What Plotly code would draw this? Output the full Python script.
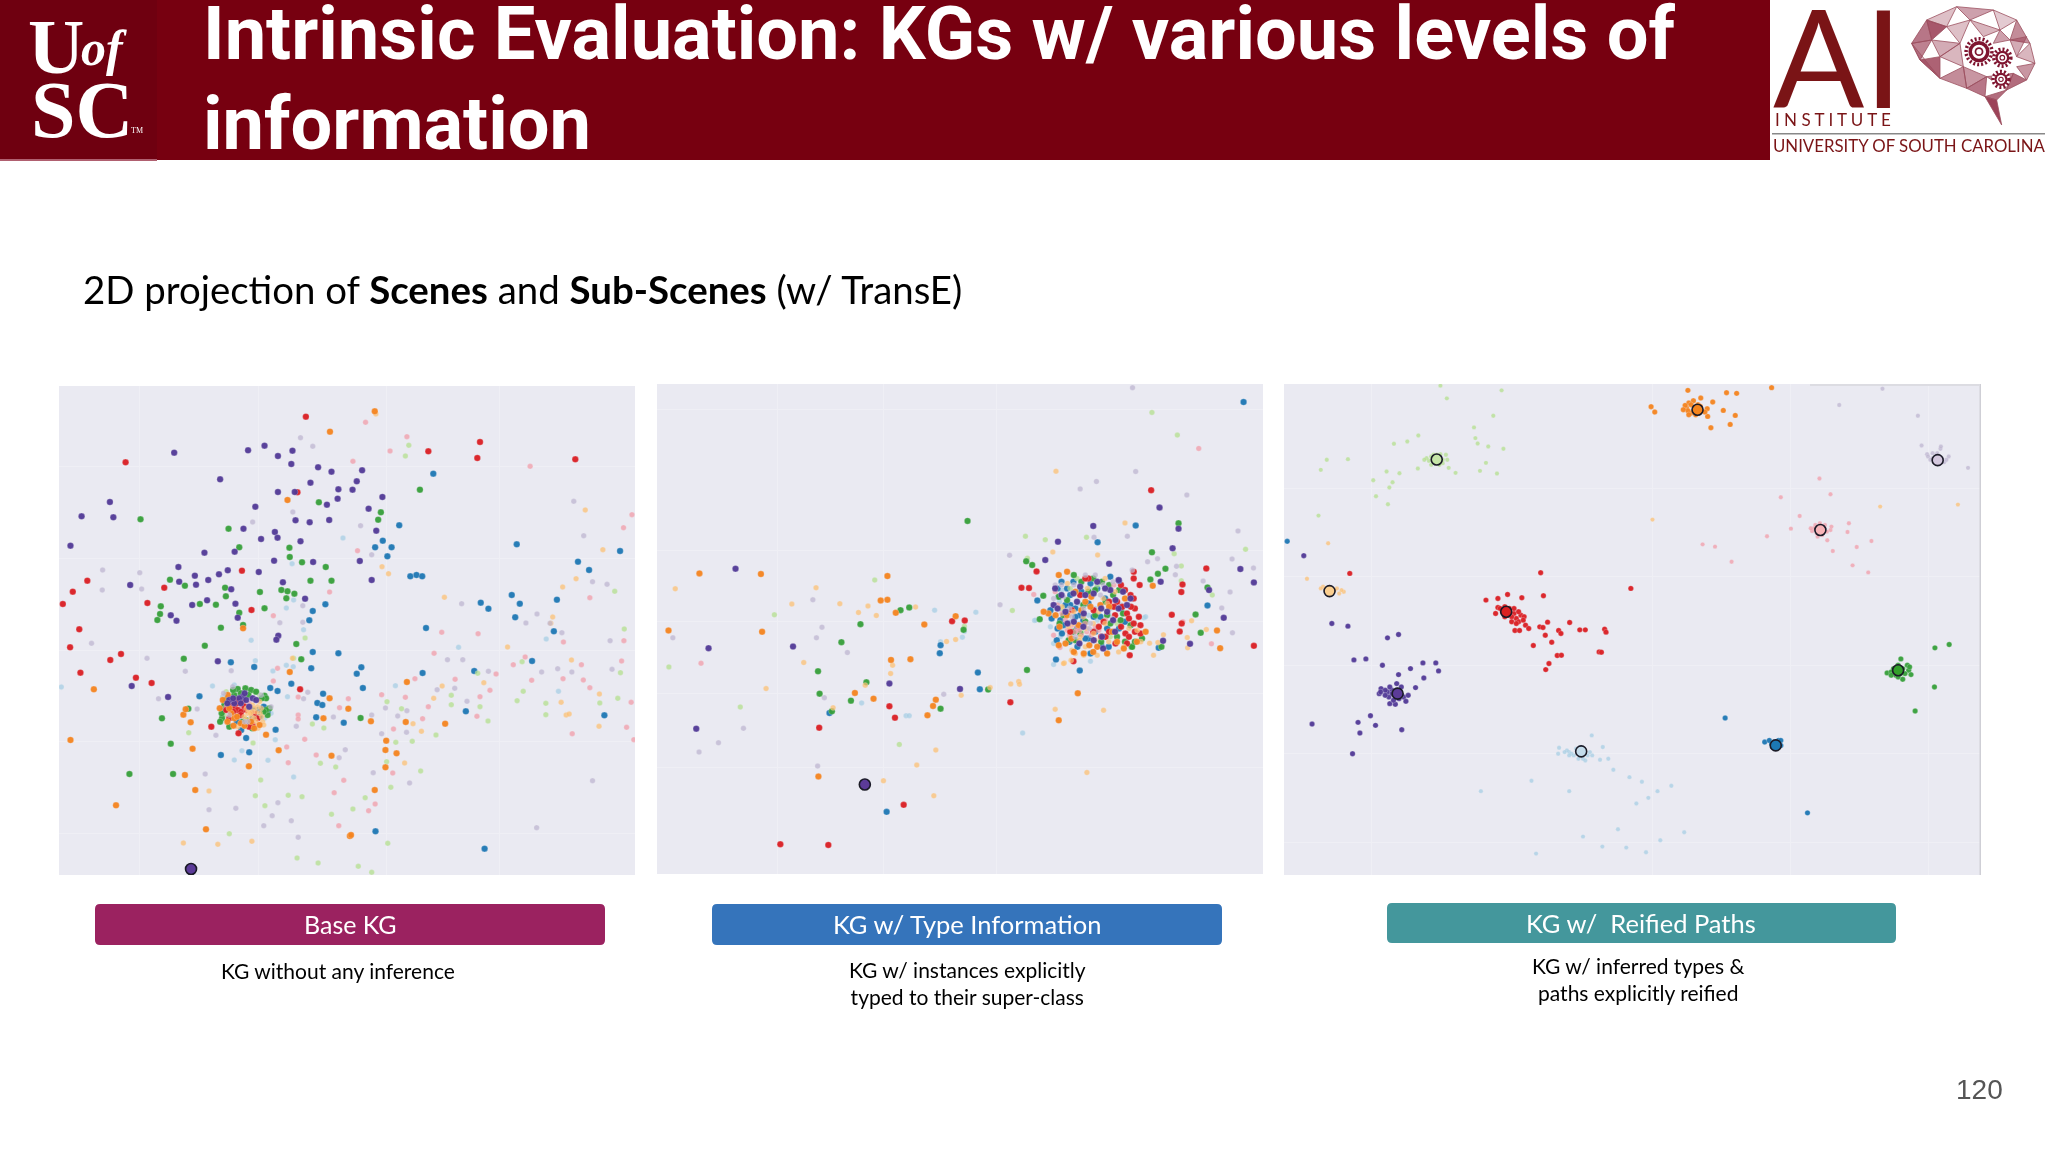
import plotly.graph_objects as go

# ---------- text ----------
TITLE_LINE_1 = "Intrinsic Evaluation: KGs w/ various levels of"
TITLE_LINE_2 = "information"
SUBTITLE = "2D projection of <b>Scenes</b> and <b>Sub-Scenes</b> (w/ TransE)"
BUTTON_LABELS = ["Base KG", "KG w/ Type Information", "KG w/  Reified Paths"]
CAPTIONS = ["KG without any inference",
            "KG w/ instances explicitly<br>typed to their super-class",
            "KG w/ inferred types &<br>paths explicitly reified"]
PAGE_NUMBER = "120"

# ---------- panel 1 : Base KG ----------
P1_LIGHTBLUE = [(767,489),(634,566),(664,764),(619,699),(638,675),(527,796),(1298,792),(1069,817),(538,857),(619,871),(637,875),(584,888),(31,936),(426,933),(904,932),(1330,949),(622,965),(590,1094),(503,1127),(483,1155),(571,1156),(638,1206),
                (483,930),(453,965),(505,1030),(562,1030),(579,1015),(470,1050),(553,1000),(460,960),(540,1020),(495,1035)]
P1_BLUE = [(1003,296),(914,451),(871,497),(851,517),(894,517),(883,544),(943,604),(959,600),(974,604),(721,688),(688,708),(679,736),(1221,508),(1491,528),(1381,560),(1410,585),(1208,660),(1229,686),(1127,683),(1147,701),(1326,674),(1217,727),(984,759),(1318,769),(755,835),(688,831),(474,862),(535,876),(684,880),(815,877),(803,896),(975,894),(1110,888),(1261,858),(632,926),(577,939),(596,948),(819,939),(392,964),(715,956),(700,984),(713,990),(1088,1009),(1450,1021),(697,1027),(769,1043),(591,1064),(514,1089),(448,1140),(522,1132),(852,1369),(1137,1421),
           (501,1065),(531,1005),(570,1010),(549,1025),(505,970),(531,1030),(545,1005),(560,995),(520,1040),(490,1040),(455,1005)]
P1_LIGHTGREEN = [(939,211),(930,243),(1477,649),(1502,762),(1492,893),(1119,895),(1235,860),(1238,949),(1222,977),(1050,961),(1050,989),(1125,995),(1146,1038),(1485,970),(1438,984),(1297,985),(1297,1019),(920,1001),(882,980),(687,1047),(717,1059),(364,1073),(948,1099),(905,1102),(1010,1080),(532,1104),(708,1165),(748,1176),(881,1160),(970,1188),(552,1215),(892,1237),(538,1262),(624,1261),(660,1265),(825,1268),(563,1292),(793,1302),(737,1318),(470,1376),(884,1405),(647,1449),(702,1464),(807,1474),(842,1492),(668,789),(638,850),
                 (462,950),(536,950),(457,1020),(514,960),(549,960)]
P1_GREEN = [(238,433),(968,344),(704,382),(866,412),(859,434),(468,461),(496,517),(627,518),(628,546),(660,562),(722,576),(315,614),(682,617),(737,617),(354,632),(459,638),(606,645),(622,649),(640,656),(550,651),(461,664),(619,670),(393,687),(435,689),(291,694),(562,700),(289,717),(496,713),(282,735),(506,750),(448,758),(645,807),(406,812),(351,851),(658,853),(363,1001),(294,1030),(813,1029),(317,1106),(209,1197),(323,1197),
            (492,942),(512,940),(527,945),(562,962),(566,970),(575,1000),(451,1030),(446,1040),(483,960),(457,990),(570,1020),(514,1035),(470,1055),(566,1005),(480,945),(500,955),(540,950),(555,970),(460,975),(505,1040),(530,1060),(560,1010),(450,1015),(520,960)]
P1_PINK = [(826,142),(934,185),(890,228),(793,259),(1256,274),(1522,419),(1500,458),(805,527),(732,651),(585,722),(1412,668),(1025,772),(1120,776),(1343,801),(1501,797),(1005,835),(1495,858),(1390,869),(596,880),(1212,869),(1243,846),(1167,897),(955,911),(1060,913),(1342,911),(1395,915),(1412,938),(1260,916),(585,918),(868,959),(781,971),(650,966),(930,967),(1151,946),(1125,965),(990,995),(758,998),(1520,982),(1117,1024),(975,1031),(650,1020),(650,1032),(1508,1057),(899,1062),(1366,1076),(1527,1094),(667,1093),(620,1116),(697,1140),(624,1163),(897,1194),(769,1216),(744,1253),(851,1287),(834,1307),(756,1352),
           (462,995),(505,995),(475,970),(522,985),(492,1020),(480,1000),(500,1000)]
P1_RED = [(670,125),(199,262),(990,229),(1125,201),(1118,249),(1374,253),(648,352),(99,617),(61,650),(300,638),(35,687),(256,684),(503,587),(528,705),(78,763),(54,817),(187,837),(159,855),(81,893),(226,908),(267,924),(655,943),(423,1055),(494,1075),
          (483,995),(492,1005),(501,1010),(505,980),(475,985),(462,1005),(531,1050),(544,1030),(522,1055),(470,1030),(490,985),(510,995),(470,995),(500,1020),(515,1005),(480,1010),(535,1015),(490,975)]
P1_LIGHTORANGE = [(853,117),(1400,405),(1446,524),(1376,611),(1341,636),(1032,667),(1315,726),(1310,745),(1197,816),(1364,855),(869,575),(886,596),(1135,923),(1026,933),(1004,970),(1437,957),(1337,982),(1350,1020),(1358,1017),(950,1046),(972,1069),(1436,1054),(417,1248),(350,1404),(440,1408),(529,1399),(928,1164),(635,850),
                  (531,990),(544,995),(540,1010),(518,1015),(527,1025),(549,980),(509,1025),(553,1000),(522,1005),(492,1055),(540,1040),(557,1040),(515,1000),(535,1000),(550,1015),(530,1010),(515,1035),(505,1050),(535,1030),(555,1025),(545,1060),(525,1015),(560,1050)]
P1_ORANGE = [(850,109),(733,170),(622,375),(506,760),(628,891),(116,943),(934,921),(732,970),(781,1001),(350,1019),(356,1003),(716,1030),(840,1039),(369,1042),(931,1041),(1034,1046),(566,1079),(55,1095),(880,1097),(374,1121),(599,1126),(878,1125),(907,1135),(737,1142),(878,1177),(354,1200),(381,1245),(850,1245),(174,1291),(409,1363),(785,1383),(788,1380),(521,1174),
             (475,1015),(483,1030),(481,1052),(466,960),(527,1040),(549,1050),(453,975),(500,1045),(465,1040),(490,1025),(510,1052),(470,1000),(445,1000),(535,1060)]
P1_LAVENDER = [(656,188),(688,214),(1370,379),(636,411),(531,441),(813,452),(1396,482),(842,539),(139,585),(236,593),(138,645),(241,642),(1419,620),(1457,628),(1077,686),(662,692),(1274,717),(1245,744),(602,743),(662,742),(1308,745),(1339,773),(1465,797),(110,805),(255,850),(1040,854),(1080,854),(1470,883),(1286,891),(1365,891),(1147,889),(1328,881),(355,889),(475,887),(285,971),(1059,940),(675,952),(1013,944),(664,971),(1091,979),(878,999),(910,1023),(934,1007),(842,1020),(742,1026),(645,1054),(933,1072),(868,1076),(435,1081),(773,1124),(757,1148),(846,1193),(941,1224),(1419,1217),(407,1197),(417,1304),(487,1300),(597,1283),(582,1322),(632,1337),(560,1352),(650,1387),(1273,1358),(386,1002),
               (479,935),(470,1020),(518,1040),(553,960),(579,995),(510,1040),(455,955)]
P1_PURPLE = [(326,233),(519,226),(562,212),(597,243),(635,227),(632,267),(702,277),(737,290),(817,286),(803,319),(682,323),(446,313),(597,351),(641,351),(755,343),(792,344),(753,371),(870,366),(725,389),(834,401),(158,381),(84,424),(167,427),(538,395),(643,436),(680,442),(731,435),(507,461),(589,471),(596,488),(553,492),(656,499),(854,467),(55,512),(405,533),(484,530),(587,557),(689,561),(811,558),(337,576),(466,586),(443,598),(547,591),(380,602),(339,620),(415,615),(383,629),(211,630),(610,622),(842,615),(475,643),(412,676),(373,690),(486,686),(668,671),(317,721),(332,737),(492,728),(598,782),(593,794),(440,859),(215,933),(310,966),
             (505,965),(496,970),(514,975),(483,985),(470,975),(531,970),(522,995),(510,955),(480,970),(500,985),(540,975),(465,985)]
P1_CENTROIDS = [(370,1482)]
P1_GRID_X = [235,545,880,1175]
P1_GRID_Y = [275,550,825,1100,1375]

# ---------- panel 2 : KG w/ type information ----------
P2_LIGHTBLUE = [(720,705),(824,711),(795,769),(790,786),(735,800),(1020,868),(1113,858),(972,736),(1248,728),(536,983),(648,1021),(656,1021),(942,1073),
                (1012,755),(1037,785),(974,735),(1062,740),(1108,720),(1130,735),(1252,725),(1163,700),(1083,685),(1041,645),(1020,805),(1020,720),(1040,770),(1085,745),(1125,700),(1160,720),(1190,690),(1110,640),(1035,680)]
P2_BLUE = [(1499,82),(1227,452),(1131,502),(979,676),(1408,691),(733,834),(735,810),(829,892),(834,942),(1026,853),(1086,886),(599,1309),(455,1013),(1285,818),
           (1054,640),(1113,625),(1163,605),(1033,665),(1062,690),(1108,685),(1138,725),(1037,735),(1045,750),(1041,775),(1028,795),(1079,760),(1108,790),(1121,725),(1159,815),(1113,835),(1087,720),(1155,760),(1062,660),(1012,705),
           (1030,640),(1070,620),(1090,650),(1130,640),(1150,670),(1075,700),(1050,690),(1095,735),(1125,770),(1060,800),(1080,815),(1140,810),(1030,760),(1015,730),(1200,740),(1185,760),(1190,700),(1100,790),(1075,725),(1040,620)]
P2_LIGHTGREEN = [(1268,113),(1332,181),(949,484),(999,494),(1103,487),(1504,523),(1324,536),(1342,573),(569,615),(316,719),(916,706),(1420,660),(50,875),(230,995),(631,1107),(795,753),(1342,617),(954,550),
                 (1079,610),(1092,770),(1163,785),(1130,630),(1041,700),(1062,640),(1180,745)]
P2_GREEN = [(803,438),(1335,445),(1268,532),(951,559),(966,570),(994,662),(1302,581),(1283,596),(1264,613),(1408,637),(1378,718),(1391,773),(634,705),(656,697),(533,747),(793,764),(485,801),(426,888),(548,921),(430,955),(509,976),(735,1000),(461,1008),(953,884),(855,943),(1292,815),(985,732),(1217,815),
            (1071,600),(1142,620),(1125,645),(1033,665),(1054,675),(1087,775),(1163,745),(1189,735),(1218,815),(1243,790),(1151,680),(1045,720),(1100,740),(1180,785),(1058,795),(1214,750),(1108,650),
            (1090,620),(1160,630),(1185,645),(1170,660),(1095,690),(1125,720),(1070,770),(1200,800),(1225,800),(1140,800),(1075,795),(1035,745),(1195,715),(1155,720),(1120,610)]
P2_PINK = [(1386,221),(131,864),(1418,806),(1346,740),(1036,817),(970,658),
           (1066,750),(1079,760),(1104,770),(1054,765),(1087,750),(1134,765),(1041,715),(1020,780),(1151,735),(1172,630),(1024,650),
           (1075,770),(1090,780),(1115,780),(1125,755),(1100,745),(1060,780),(1050,735),(1085,765),(1030,690)]
P2_RED = [(1266,346),(977,589),(939,638),(958,639),(1405,580),(1345,628),(1342,651),(1318,719),(1343,745),(1338,769),(1525,812),(764,738),(796,736),(1070,858),(1212,840),(911,981),(606,993),(620,1027),(429,1057),(642,1288),(331,1406),(452,1408),(1222,590),(1222,610),(1237,630),
          (1108,610),(1100,610),(1214,660),(1222,670),(1087,660),(1180,680),(1172,695),(1193,695),(1205,715),(1210,730),(1146,740),(1134,755),(1222,745),(1239,750),(1201,775),(1210,785),(1151,785),(1239,775),(1066,705),(1176,805),(1062,770),(1121,705),
          (1190,630),(1200,645),(1225,700),(1235,725),(1190,755),(1175,720),(1120,770),(1160,770),(1225,770),(1205,805),(1140,785),(1160,680),(1215,695)]
P2_LIGHTORANGE = [(1026,289),(1200,444),(1018,531),(1131,540),(66,641),(421,638),(360,687),(481,686),(528,712),(552,693),(573,721),(672,696),(390,862),(614,870),(609,895),(545,930),(295,940),(464,997),(860,937),(912,926),(932,919),(934,927),(787,960),(750,799),(773,793),(1024,1002),(1146,1005),(723,1124),(675,1169),(591,1216),(718,1261),(1104,1191),(1368,737),(1405,763),(1357,787),(1358,818),(1297,779),(1283,802),(1262,804),(1047,863),(1064,855),(1272,840),
                  (1075,835),(1096,840),(1045,865),(1066,825),(1121,775),(1087,785),(1104,760),(1058,755),(1184,830),(1197,815),(1134,710),(1071,710),(1041,695),(1155,685),(1159,800),(1231,765),
                  (1085,795),(1100,815),(1125,795),(1070,745),(1120,745),(1150,745),(1095,725),(1060,720),(1145,670),(1175,650),(1210,760),(1105,640),(1150,610),(1240,800),(1055,625),(1130,840)]
P2_ORANGE = [(127,595),(282,597),(601,603),(584,676),(601,674),(622,713),(773,723),(694,748),(49,766),(285,770),(610,854),(659,852),(519,953),(566,970),(723,973),(716,992),(702,1020),(1081,954),(1033,1035),(427,1203),(1432,766),(1440,819),(1270,632),
             (1033,600),(1054,590),(1007,715),(995,710),(1113,695),(1054,720),(1083,750),(1130,815),(1096,835),(1050,805),(1197,820),(1252,770),(1033,810),(1071,830),(1168,770),(1138,690),(1100,680),
             (1075,650),(1115,665),(1160,695),(1090,705),(1035,755),(1065,790),(1110,810),(1180,800),(1230,800),(1155,835),(1120,830),(1025,720),(1200,670)]
P2_LAVENDER = [(1219,39),(1227,290),(1128,320),(1087,342),(1356,360),(1289,401),(1485,468),(1206,484),(1122,487),(909,541),(1282,551),(1257,560),(1470,552),(1330,574),(1524,579),(1327,599),(1397,618),(1465,651),(885,689),(1444,699),(1471,773),(413,674),(436,756),(422,788),(60,788),(500,832),(442,967),(238,1059),(175,1102),(126,1130),(425,1172),(743,957),
               (1024,630),(1071,630),(1125,600),(1020,670),(1066,725),(1113,745),(1138,660),(1218,585),(1168,730),(1075,785),(1096,700),(1040,630),(1100,600),(1145,630),(1060,700),(1045,665),(1110,760),(1170,620)]
P2_PURPLE = [(218,581),(150,819),(363,814),(119,1060),(606,925),(784,941),(1120,453),(1031,500),(999,555),(1160,566),(1287,398),(1335,461),(1320,520),(1491,582),(1525,622),(1290,620),(1412,645),(1449,728),(1296,797),(1364,806),(1185,617),
             (1184,615),(1087,635),(1024,640),(1020,690),(1050,710),(1096,715),(1155,710),(1176,675),(1121,655),(1214,670),(1121,795),(1071,740),(1142,785),(1184,700),(1079,680),(1163,645),
             (1040,660),(1100,660),(1130,620),(1150,640),(1070,655),(1170,735),(1140,700),(1095,755),(1055,745),(1195,650),(1145,820),(1205,690),(1085,805),(1030,700),(1175,770)]
P2_CENTROIDS = [(544,1227)]
P2_GRID_X = [325,590,875]
P2_GRID_Y = [105,525,740,955,1175]

# ---------- panel 3 : KG w/ reified paths ----------
P3_LIGHTBLUE = [(689,1080),(713,1115),(618,1117),(616,1135),(725,1150),(707,1153),(736,1183),(771,1205),(798,1219),(862,1231),(558,1216),(448,1247),(640,1247),(832,1247),(812,1267),(786,1284),(746,1361),(890,1370),(670,1383),(838,1394),(712,1413),(764,1416),(807,1430),(568,1434),
                (640,1130),(655,1120),(680,1140),(670,1150),(650,1140),(685,1130),(635,1125),(645,1135),(660,1150),(675,1155),(690,1140),(640,1140),(665,1115),(630,1130)]
P3_BLUE = [(27,499),(979,1028),(1158,1312),(1065,1100),(1080,1105),(1095,1095),(1100,1110),(1090,1118),(1082,1115),(1075,1095),(1090,1105),(1100,1095),(1085,1100)]
P3_LIGHTGREEN = [(360,33),(493,47),(374,71),(475,123),(312,182),(288,200),(259,207),(433,158),(436,190),(441,206),(464,215),(497,222),(113,255),(159,253),(100,285),(243,290),(271,295),(311,281),(378,279),(393,294),(446,288),(459,264),(483,296),(214,316),(256,322),(249,338),(220,364),(246,388),(95,422),
                 (340,245),(345,262),(360,238),(372,240),(335,258),(365,265),(330,250),(358,270),(352,240),(345,240),(365,255),(325,255),(375,255),(340,270),(350,265)]
P3_GREEN = [(1435,818),(1466,808),(1361,851),(1434,935),(1392,1007),(1331,893),(1345,880),(1360,895),(1375,870),(1378,885),(1383,898),(1365,912),(1350,900),(1370,895),(1340,890),(1355,870),(1365,880),(1380,875),(1355,905),(1340,900)]
P3_PINK = [(1184,311),(1208,358),(1100,367),(1141,423),(1122,461),(1070,484),(1248,445),(1245,471),(1201,496),(1297,498),(1265,516),(1213,528),(930,508),(957,515),(993,560),(1256,571),(1290,592),
           (1172,460),(1178,475),(1196,450),(1208,465),(1190,480),(1168,468),(1175,450),(1185,445),(1200,470),(1180,485),(1210,455),(1165,460)]
P3_RED = [(163,595),(578,593),(774,640),(459,675),(485,670),(506,658),(537,668),(584,662),(485,697),(593,741),(641,742),(576,755),(583,757),(617,766),(622,775),(663,764),(675,764),(717,762),(720,771),(588,780),(602,801),(562,811),(522,766),(532,766),(545,750),(552,760),(705,830),(710,831),(614,841),(623,840),(596,865),(589,883),
          (495,710),(510,700),(520,715),(525,730),(535,720),(542,725),(530,740),(515,725),(490,700),(505,720),(500,695),(510,715),(520,700),(530,710),(500,725),(515,740),(525,745),(540,735),(480,715)]
P3_LIGHTORANGE = [(821,434),(1316,395),(1485,389),(116,505),(70,611),(105,635),(130,645),(140,655),(150,650),(112,640),(135,640),(125,650),(115,655),(145,645),(100,640)]
P3_ORANGE = [(898,47),(982,54),(1004,56),(1080,39),(818,96),(826,112),(926,70),(952,82),(975,107),(1001,122),(941,125),(948,159),(990,149),
             (900,85),(910,78),(895,100),(905,115),(920,90),(898,108),(915,120),(940,102),(905,90),(915,100),(925,108),(892,92),(900,120),(912,108),(925,95),(935,112),(888,105)]
P3_LAVENDER = [(1321,42),(1227,91),(1398,123),(1406,212),(1507,279),(1418,238),(1447,222),(1430,250),(1455,262),(1465,245),(1440,235),(1420,245),(1430,235),(1450,250),(1460,255),(1445,265),(1435,265),(1448,215),(1425,255)]
P3_PURPLE = [(63,542),(124,745),(159,753),(245,788),(269,778),(172,854),(198,851),(234,870),(322,863),(350,863),(295,880),(356,887),(269,898),(324,908),(306,937),(208,1021),(81,1046),(181,1041),(219,1050),(185,1073),(276,1063),(169,1135),
             (231,940),(227,955),(245,950),(255,945),(275,935),(260,960),(280,965),(290,960),(285,978),(250,985),(262,987),(272,950),(258,975),(248,965),(240,945),(250,935),(265,945),(275,960),(240,960),(255,955),(270,970),(230,950),(265,925)]
P3_CENTROIDS = [(666,1128),(1089,1110),(352,254),(1355,885),(1186,465),(503,710),(119,648),(919,105),(1441,256),(267,955)]
P3_CENTROID_COLOURS = ["#C4DCEB","#1F78B4","#C6E5A8","#33A02C","#F7B4B8","#DB2024","#FBCF90","#F5841F","#D4C8DE","#5B3A98"]
P3_GRID_X = [210,820,1120,1420]
P3_GRID_Y = [340,605,870,1135,1400]

COLOURS = {"lightblue":"#A6CEE3","blue":"#1F78B4","lightgreen":"#B2DF8A","green":"#37A03A","pink":"#F29AA6",
           "red":"#DB2024","lightorange":"#FDBF6F","orange":"#F5841F","lavender":"#BDB4CF","purple":"#523A96"}
PALE = {"lightblue","lightgreen","pink","lightorange","lavender"}

# ---------- helpers ----------
W, H = 2048, 1152
def px(x): return x / W
def py(y): return 1 - y / H

def poly(points, **kw):
    path = "M " + " L ".join(f"{px(x):.5f},{py(y):.5f}" for x, y in points) + " Z"
    return dict(type="path", xref="paper", yref="paper", path=path, layer=kw.pop("layer", "above"), **kw)

def rect(x0, y0, x1, y1, fill, layer="below"):
    return dict(type="rect", xref="paper", yref="paper", x0=px(x0), x1=px(x1), y0=py(y1), y1=py(y0),
                fillcolor=fill, line=dict(width=0), layer=layer)

def circle(cx, cy, r, fill=None, line=None):
    return dict(type="circle", xref="paper", yref="paper", x0=px(cx-r), x1=px(cx+r), y0=py(cy+r), y1=py(cy-r),
                fillcolor=fill or "rgba(0,0,0,0)", line=line or dict(width=0), layer="above")

def rounded(x0, y0, x1, y1, r, fill):
    c = lambda x, y: f"{px(x):.5f},{py(y):.5f}"
    path = (f"M {c(x0+r,y0)} L {c(x1-r,y0)} Q {c(x1,y0)} {c(x1,y0+r)} L {c(x1,y1-r)} Q {c(x1,y1)} {c(x1-r,y1)} "
            f"L {c(x0+r,y1)} Q {c(x0,y1)} {c(x0,y1-r)} L {c(x0,y0+r)} Q {c(x0,y0)} {c(x0+r,y0)} Z")
    return dict(type="path", xref="paper", yref="paper", path=path, fillcolor=fill, line=dict(width=0), layer="below")

def text(x, y, s, size, color="#000", family="Lato", xanchor="left", yanchor="middle", weight=None, align=None):
    f = dict(size=size, color=color, family=family)
    if weight: f["weight"] = weight
    return dict(xref="paper", yref="paper", x=px(x), y=py(y), text=s, showarrow=False, xanchor=xanchor,
                yanchor=yanchor, font=f, borderpad=0, align=align or ("center" if xanchor == "center" else "left"))

fig = go.Figure()

panels = [
    dict(n="", box=(59,386,635,875), xr=(25,1530), yr=(1500,33), size=6.5, gx=P1_GRID_X, gy=P1_GRID_Y,
         series=[("lightblue",P1_LIGHTBLUE),("blue",P1_BLUE),("lightgreen",P1_LIGHTGREEN),("green",P1_GREEN),("pink",P1_PINK),
                 ("red",P1_RED),("lightorange",P1_LIGHTORANGE),("orange",P1_ORANGE),("lavender",P1_LAVENDER),("purple",P1_PURPLE)],
         cent=P1_CENTROIDS, cc=["#5B3A98"], cs=11),
    dict(n="2", box=(657,384,1263,874), xr=(20,1548), yr=(1495,28), size=6.5, gx=P2_GRID_X, gy=P2_GRID_Y,
         series=[("lightblue",P2_LIGHTBLUE),("blue",P2_BLUE),("lightgreen",P2_LIGHTGREEN),("green",P2_GREEN),("pink",P2_PINK),
                 ("red",P2_RED),("lightorange",P2_LIGHTORANGE),("orange",P2_ORANGE),("lavender",P2_LAVENDER),("purple",P2_PURPLE)],
         cent=P2_CENTROIDS, cc=["#5B3A98"], cs=11),
    dict(n="3", box=(1284,384,1980,875), xr=(20,1533), yr=(1498,28), size=5.4, gx=P3_GRID_X, gy=P3_GRID_Y,
         series=[("lightblue",P3_LIGHTBLUE),("blue",P3_BLUE),("lightgreen",P3_LIGHTGREEN),("green",P3_GREEN),("pink",P3_PINK),
                 ("red",P3_RED),("lightorange",P3_LIGHTORANGE),("orange",P3_ORANGE),("lavender",P3_LAVENDER),("purple",P3_PURPLE)],
         cent=P3_CENTROIDS, cc=P3_CENTROID_COLOURS, cs=11),
]

axes = {}
for p in panels:
    x0, y0, x1, y1 = p["box"]
    axes["xaxis"+p["n"]] = dict(domain=[px(x0), px(x1)], range=list(p["xr"]), tickvals=p["gx"], showticklabels=False, ticks="",
                                showgrid=True, gridcolor="#EFEFF5", gridwidth=1, zeroline=False, fixedrange=True,
                                anchor="y"+p["n"], showline=False)
    axes["yaxis"+p["n"]] = dict(domain=[py(y1), py(y0)], range=list(p["yr"]), tickvals=p["gy"], showticklabels=False, ticks="",
                                showgrid=True, gridcolor="#EFEFF5", gridwidth=1, zeroline=False, fixedrange=True,
                                anchor="x"+p["n"], showline=False)
    for name, pts in p["series"]:
        pale = name in PALE
        fig.add_trace(go.Scatter(x=[a for a, _ in pts], y=[b for _, b in pts], mode="markers", name=name,
                                 xaxis="x"+p["n"], yaxis="y"+p["n"], showlegend=False, hoverinfo="skip",
                                 marker=dict(color=COLOURS[name], size=p["size"] - (1.0 if pale else 0),
                                             opacity=0.72 if pale else 0.95,
                                             line=dict(color="rgba(240,240,246,0.5)", width=0.5))))
    fig.add_trace(go.Scatter(x=[a for a, _ in p["cent"]], y=[b for _, b in p["cent"]], mode="markers", name="centroid",
                             xaxis="x"+p["n"], yaxis="y"+p["n"], showlegend=False, hoverinfo="skip",
                             marker=dict(color=p["cc"], size=p["cs"], line=dict(color="#1a1a28", width=1.6))))

# ---------- slide furniture ----------
shapes = [
    rect(0, 0, 1770, 160, "#770010"),
    rect(0, 0, 157, 160, "#6F0010"),
    rect(0, 159, 157, 161, "#B06070"),
    rect(1772, 133, 2045, 134.5, "#888888", layer="above"),
    rect(1979.5, 384, 1981, 875, "#CFCFD6", layer="above"),
    rect(1810, 384, 1980, 386, "#DCDCE2", layer="above"),
    rect(59, 386, 635, 875, "#EAEAF2"),
    rect(657, 384, 1263, 874, "#EAEAF2"),
    rect(1284, 384, 1980, 875, "#EAEAF2"),
    rounded(95, 904, 605, 945, 5, "#9B2260"),
    rounded(712, 904, 1222, 945, 5, "#3574BB"),
    rounded(1387, 903, 1896, 943, 5, "#44979C"),
]

# brain logo (drawn in logo-zoom coordinates)
def lg(x, y): return (1740 + x / 3, y / 3)
BRAIN_TRIANGLES = [
    [(515,130),(560,60),(575,120)], [(560,60),(650,20),(620,80)], [(650,20),(760,30),(690,60)], [(760,30),(830,60),(780,90)],
    [(830,60),(870,130),(810,120)], [(870,130),(885,190),(830,170)], [(885,190),(860,240),(830,200)], [(860,240),(800,270),(820,220)],
    [(560,60),(620,80),(575,120)], [(620,80),(690,60),(660,130)], [(575,120),(660,130),(600,170)], [(515,130),(575,120),(540,180)],
    [(540,180),(600,170),(600,235)], [(600,170),(660,130),(670,200)], [(600,235),(670,200),(680,265)], [(680,265),(740,230),(735,290)],
    [(735,290),(770,300),(785,375)], [(735,290),(800,270),(770,300)], [(690,60),(780,90),(730,110)], [(780,90),(810,120),(760,130)],
    [(810,120),(830,170),(860,110)], [(670,200),(740,230),(680,265)], [(800,270),(740,230),(820,220)], [(515,130),(540,180),(600,235)],
]
ALPHAS = [0.65,0.3,0.45,0.25,0.55,0.35,0.5,0.7,0.8,0.3,0.4,0.6,0.75,0.35,0.55,0.65,0.9,0.7,0.35,0.45,0.4,0.5,0.6,0.25]
for tri, a in zip(BRAIN_TRIANGLES, ALPHAS):
    shapes.append(poly([lg(*v) for v in tri], fillcolor=f"rgba(145,45,70,{a})", line=dict(color="#9C5060", width=0.8)))
GEARS = [(717,155,44),(787,173,29),(783,238,27)]
for gx_, gy_, r in GEARS:
    cx, cy = lg(gx_, gy_)
    rr = r / 3
    shapes.append(circle(cx, cy, rr * 1.02, "#FFFFFF"))
    shapes.append(circle(cx, cy, rr * 0.88, None, dict(color="#7F1530", width=3.5, dash="2px,2px")))
    shapes.append(circle(cx, cy, rr * 0.72, "#7F1530"))
    shapes.append(circle(cx, cy, rr * 0.48, "#FFFFFF"))
    shapes.append(circle(cx, cy, rr * 0.30, "#7F1530"))
    shapes.append(circle(cx, cy, rr * 0.18, "#FFFFFF"))

annotations = [
    text(202, 34, TITLE_LINE_1, 74, "#FFFFFF", "Roboto", weight=700),
    text(202, 123, TITLE_LINE_2, 74, "#FFFFFF", "Roboto", weight=700),
    text(27, 46, "<b>U</b>", 78, "#FFFFFF", "Liberation Serif"),
    text(80, 48, "<b><i>of</i></b>", 50, "#FFFFFF", "Liberation Serif"),
    text(30, 110, "<b>SC</b>", 80, "#FFFFFF", "Liberation Serif"),
    text(130, 130, "TM", 8, "#FFFFFF", "Liberation Serif"),
    text(1772, 56, "AI", 135, "#7A1416", "Lato"),
    text(1774, 120, "I N S T I T U T E", 17, "#7A1416", "Lato"),
    text(1772, 145, "UNIVERSITY OF SOUTH CAROLINA", 16.8, "#7A1416", "Lato"),
    text(82, 289, SUBTITLE, 38.4, "#000000", "Lato"),
    text(350, 924, BUTTON_LABELS[0], 25, "#FFFFFF", "Lato", xanchor="center"),
    text(967, 924, BUTTON_LABELS[1], 25.5, "#FFFFFF", "Lato", xanchor="center"),
    text(1641, 923, BUTTON_LABELS[2], 25.5, "#FFFFFF", "Lato", xanchor="center"),
    text(338, 970, CAPTIONS[0], 21, "#000000", "Lato", xanchor="center"),
    text(967, 983, CAPTIONS[1], 21, "#000000", "Lato", xanchor="center"),
    text(1638, 979, CAPTIONS[2], 21, "#000000", "Lato", xanchor="center"),
    text(1979, 1089, PAGE_NUMBER, 28, "#555555", "Liberation Sans", xanchor="center"),
]

fig.update_layout(width=W, height=H, margin=dict(l=0, r=0, t=0, b=0), paper_bgcolor="#FFFFFF", plot_bgcolor="#EAEAF2",
                  showlegend=False, shapes=shapes, annotations=annotations, **axes)

POST = """
document.documentElement.style.margin='0';
document.body.style.margin='0';
document.body.style.overflow='hidden';
function soften(){
  var svg=document.querySelector('.main-svg');
  if(!svg){return;}
  if(!document.getElementById('soft')){
    svg.insertAdjacentHTML('beforeend','<defs><filter id="soft" x="-2%" y="-2%" width="104%" height="104%"><feGaussianBlur stdDeviation="0.7"/></filter></defs>');
  }
  document.querySelectorAll('.scatterlayer').forEach(function(e){e.setAttribute('filter','url(#soft)');});
}
soften(); setTimeout(soften,150);
"""
fig.write_html("out.html", config=dict(displayModeBar=False, staticPlot=True), post_script=POST)
